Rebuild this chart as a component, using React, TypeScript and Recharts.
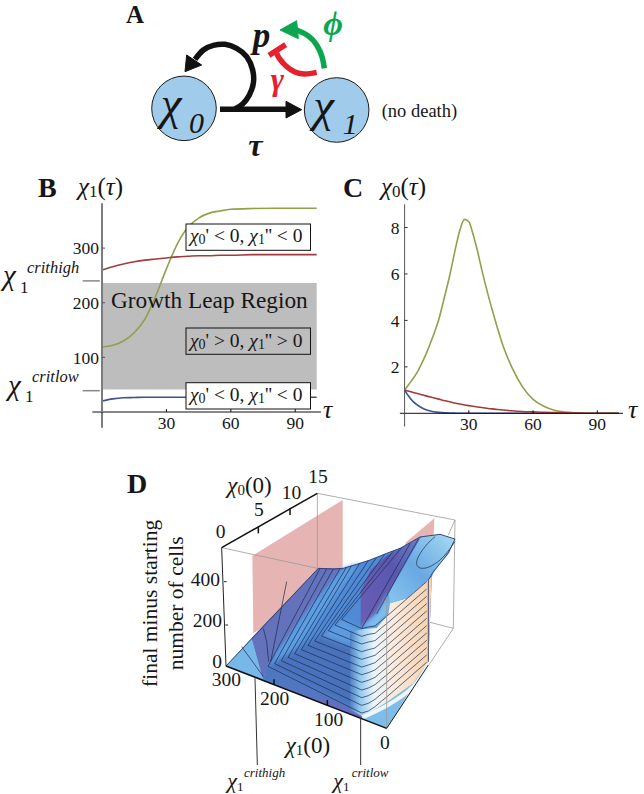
import React from "react";
import { LineChart, Line, XAxis, YAxis, ReferenceArea, ReferenceLine, ScatterChart, Scatter } from "recharts";

const serif = "'Liberation Serif', serif";
const GREEN = "#939f4c", RED = "#a23b3c", BLUE = "#3f5190";

// Panel B
const tauB = [0, 5, 10, 15, 20, 25, 30, 35, 40, 45, 50, 55, 60, 70, 80, 100];
const chi1Green = [119, 122, 130, 145, 170, 212, 262, 307, 338, 355, 364, 368, 371, 372.5, 373, 373];
const chi1Red = [260, 266, 271, 275, 278, 280, 282, 284, 285, 286, 286, 287, 287, 288, 288, 288];
const chi1Blue = [20, 24, 26, 26.5, 27, 27, 27, 27, 27, 27, 27, 27, 27, 27, 27, 27];
const ticksB = [30, 60, 90];
const ticksB1 = [100, 200, 300];
const leapLow = 41, leapHigh = 236, critLow = 39, critHigh = 240;

// Panel C
const tauC = [0, 2, 4, 6, 8, 10, 13, 16, 19, 21, 24, 26, 28, 30, 32, 34, 36, 39, 42, 46, 50, 55, 60, 65, 70, 75, 80, 90, 100];
const chi0Green = [1, 1.25, 1.5, 1.78, 2.15, 2.55, 3.25, 4.05, 5.15, 5.9, 7.2, 7.95, 8.35, 8.25, 7.7, 7, 6.2, 5.1, 4.1, 2.9, 2, 1.15, 0.6, 0.3, 0.13, 0.05, 0.02, 0, 0];
const chi0Red = [1, 0.95, 0.9, 0.85, 0.8, 0.75, 0.68, 0.61, 0.54, 0.5, 0.43, 0.4, 0.36, 0.33, 0.3, 0.27, 0.25, 0.21, 0.18, 0.14, 0.11, 0.08, 0.06, 0.04, 0.03, 0.02, 0.01, 0, 0];
const chi0Blue = [1, 0.72, 0.5, 0.35, 0.24, 0.15, 0.08, 0.04, 0.02, 0.012, 0.005, 0, 0, 0, 0, 0, 0, 0, 0, 0, 0, 0, 0, 0, 0, 0, 0, 0, 0];
const ticksC1 = [2, 4, 6, 8];

const rowsB = tauB.map((t, i) => ({ t, g: chi1Green[i], r: chi1Red[i], b: chi1Blue[i] }));
const rowsC = tauC.map((t, i) => ({ t, g: chi0Green[i], r: chi0Red[i], b: chi0Blue[i] }));

// Panel A: traced schematic outlines
const flowShaft = [[300, 328], [505, 328]];
const flowHead = [[498, 304], [545, 329], [498, 354], [498, 304]];
const loopArc = [[345, 327], [368, 312], [388, 285], [400, 250], [398, 210], [380, 170], [350, 145], [315, 133], [280, 136], [250, 150], [225, 178]];
const loopHead = [[195, 215], [200, 165], [245, 195], [195, 215]];
const redArc = [[590, 217], [555, 222], [525, 216], [498, 198], [478, 175], [470, 160]];
const redBar = [[447, 166], [497, 134]];
const greenArc = [[613, 205], [606, 170], [590, 135], [565, 108], [525, 88]];
const greenHead = [[480, 90], [530, 62], [535, 116], [480, 90]];
const nodes = [{ x: 192, y: 325 }, { x: 650, y: 330 }];

// Panel D: traced surface outlines
const planeHigh = [[397, 272], [668, 105], [668, 330], [400, 505], [397, 272]];
const planeLow = [[858, 232], [943, 160], [930, 475], [925, 590], [800, 700], [800, 400], [858, 232]];
const surfaceBase = [[318, 603], [595, 310], [640, 312], [670, 310], [710, 298], [750, 285], [800, 265], [840, 250], [900, 216], [960, 208], [1005, 222], [985, 265], [940, 320], [935, 340], [925, 590], [880, 655], [800, 712], [730, 755], [725, 762], [318, 603]];
const floorLeft = [[318, 603], [395, 518], [430, 642], [318, 603]];
const bandDark = [[395, 518], [595, 310], [670, 310], [580, 415], [475, 555], [428, 638], [395, 518]];
const bandLight = [[428, 638], [475, 555], [580, 415], [670, 310], [720, 295], [620, 430], [520, 560], [446, 606], [428, 638]];
const coreDark = [[444, 604], [625, 497], [725, 510], [725, 744], [444, 604]];
const coreLight = [[604, 513], [665, 463], [725, 491], [725, 555], [604, 513]];
const frontBand = [[430, 642], [725, 762], [725, 744], [444, 604], [430, 642]];
const wedge = [[722, 487], [722, 378], [752, 315], [800, 272], [845, 248], [905, 214], [860, 285], [805, 385], [770, 445], [722, 487]];
const wedgeSide = [[722, 490], [770, 445], [805, 385], [812, 420], [805, 448], [770, 489], [722, 490]];
const floorRight = [[725, 762], [730, 755], [880, 655], [925, 590], [800, 790], [725, 762]];
const floorEdge = [[727, 757], [800, 722], [880, 665], [925, 598]];
const wall = [[690, 735], [690, 500], [730, 492], [770, 489], [805, 448], [810, 415], [860, 400], [935, 335], [925, 590], [880, 655], [800, 712], [730, 755], [690, 735]];
const lobe = [[805, 385], [810, 415], [860, 400], [930, 340], [1005, 230], [1005, 222], [960, 208], [905, 214], [805, 385]];
const lobeRing = [[945, 215], [915, 245], [890, 290], [910, 310], [960, 285], [1005, 230]];
const topEdge = [[318, 603], [595, 310], [640, 312], [670, 310], [710, 298], [750, 285], [800, 265], [840, 250], [900, 216], [960, 208], [1005, 222], [985, 265], [940, 320], [925, 345], [925, 590]];
const spurs = [
  [[365, 545], [405, 600], [430, 635]],
  [[430, 490], [440, 530], [446, 590]],
  [[500, 350], [470, 500], [452, 590]],
  [[725, 490], [870, 236]],
  [[770, 447], [895, 222]],
];
const contours = [
  [[600, 311], [444, 604], [725, 744], [745, 738], [765, 725], [785, 708], [800, 696], [920, 592]],
  [[620, 312], [464, 596], [725, 721], [745, 715], [765, 703], [785, 686], [800, 674], [920, 570]],
  [[640, 312], [484, 587], [725, 698], [745, 692], [765, 681], [785, 664], [800, 652], [920, 548]],
  [[660, 311], [504, 577], [725, 675], [745, 669], [765, 659], [785, 642], [800, 630], [920, 526]],
  [[680, 306], [524, 566], [725, 652], [745, 646], [765, 637], [785, 620], [800, 608], [920, 504]],
  [[695, 302], [544, 554], [725, 629], [745, 623], [765, 615], [785, 598], [800, 586], [920, 482]],
  [[720, 294], [564, 541], [725, 606], [745, 600], [765, 593], [785, 576], [800, 564], [920, 460]],
  [[745, 287], [584, 528], [725, 583], [745, 577], [765, 571], [785, 554], [800, 542], [920, 438]],
  [[770, 277], [604, 513], [725, 560], [745, 554], [765, 549], [785, 532], [800, 520], [920, 416]],
  [[795, 267], [625, 497], [725, 537], [745, 531], [765, 527], [785, 510], [800, 498], [920, 394]],
  [[820, 258], [645, 480], [725, 514], [745, 508], [765, 505], [785, 488], [800, 476], [920, 372]],
  [[845, 248], [665, 463], [725, 491], [745, 486], [765, 483], [785, 466], [800, 454], [920, 350]],
];
const boxBack = [
  [[592, 85], [1005, 165]], [[305, 248], [592, 310]], [[592, 85], [592, 312]],
  [[1005, 165], [1000, 490]], [[1000, 490], [800, 790]], [[1000, 490], [930, 472]], [[1005, 165], [985, 210]],
];
const boxFront = [[800, 790], [800, 395]];
const boxBold = [[[305, 248], [592, 85]], [[318, 603], [800, 790]], [[415, 185], [415, 205]], [[510, 130], [510, 150]], [[462, 660], [462, 643]], [[622, 722], [622, 705]]];
const boxThin = [[[305, 248], [318, 603]], [[312, 350], [320, 350]], [[316, 480], [324, 480]], [[800, 790], [925, 600]]];
const leaders = [[[405, 640], [412, 900]], [[722, 760], [722, 900]]];

const Nothing = () => <g />;
const pts = (a: number[][]) => a.map(([x, y]) => ({ x, y }));

function path(key: string, a: number[][], line: any, joint: any = "linear") {
  return <Scatter key={key} data={pts(a)} dataKey="y" line={line} lineJointType={joint} shape={Nothing as any} isAnimationActive={false} />;
}
function note(key: string, x: number, y: number, content: React.ReactNode) {
  return (
    <Scatter key={key} data={[{ x, y }]} dataKey="y" isAnimationActive={false}
      shape={((p: any) => <g transform={`translate(${p.cx},${p.cy})`} fontFamily={serif} fill="#161616">{content}</g>) as any} />
  );
}
const I = ({ children }: any) => <tspan fontStyle="italic">{children}</tspan>;

function Canvas({ left, top, w, h, sx, sy, children }: any) {
  return (
    <div style={{ position: "absolute", left, top, width: w, height: h }}>
      <ScatterChart width={w} height={h} margin={{ top: 0, right: 0, bottom: 0, left: 0 }}>
        <XAxis type="number" dataKey="x" domain={[0, sx]} hide allowDataOverflow />
        <YAxis type="number" dataKey="y" domain={[0, sy]} reversed hide allowDataOverflow />
        {children}
      </ScatterChart>
    </div>
  );
}

const tickStyle = { fontFamily: serif, fontSize: 17.5, fill: "#161616" };

function PanelB() {
  return (
    <div style={{ position: "absolute", left: 60, top: 190 }}>
      <LineChart width={280} height={250} data={rowsB} margin={{ top: 13.3, right: 19, bottom: 0, left: 2 }}>
        <XAxis dataKey="t" type="number" domain={[0, 102]} ticks={ticksB} height={28} tick={tickStyle} tickSize={-3} tickMargin={8} axisLine={{ stroke: "#111", strokeWidth: 1 }} tickLine={{ stroke: "#111" }} interval={0} />
        <YAxis type="number" domain={[0, 382]} ticks={ticksB1} width={40} tick={tickStyle} tickSize={-3} tickMargin={6} axisLine={{ stroke: "#7c7c7c", strokeWidth: 2 }} tickLine={{ stroke: "#555" }} interval={0} />
        <ReferenceArea x1={0} x2={100} y1={leapLow} y2={leapHigh} fill="#bdbdbd" fillOpacity={1} stroke="none" />
        <ReferenceLine segment={[{ x: 0, y: -29 }, { x: 0, y: 0 }]} stroke="#7c7c7c" strokeWidth={2} ifOverflow="visible" />
        <ReferenceLine segment={[{ x: -4.5, y: 0 }, { x: 0, y: 0 }]} stroke="#111" strokeWidth={1} ifOverflow="visible" />
        <ReferenceLine segment={[{ x: -9, y: critHigh }, { x: -1, y: critHigh }]} stroke="#888" strokeWidth={1.5} ifOverflow="visible" />
        <ReferenceLine segment={[{ x: -9, y: critLow }, { x: -1, y: critLow }]} stroke="#888" strokeWidth={1.5} ifOverflow="visible" />
        <Line dataKey="b" stroke={BLUE} strokeWidth={1.6} dot={false} type="monotone" isAnimationActive={false} />
        <Line dataKey="g" stroke={GREEN} strokeWidth={1.6} dot={false} type="monotone" isAnimationActive={false} />
        <Line dataKey="r" stroke={RED} strokeWidth={1.6} dot={false} type="monotone" isAnimationActive={false} />
      </LineChart>
    </div>
  );
}

function PanelC() {
  return (
    <div style={{ position: "absolute", left: 360, top: 190 }}>
      <LineChart width={284} height={250} data={rowsC} margin={{ top: 14.3, right: 21, bottom: 0, left: 4.6 }}>
        <XAxis dataKey="t" type="number" domain={[0, 102]} ticks={ticksB} height={26.7} tick={tickStyle} tickSize={-3} tickMargin={7} axisLine={{ stroke: "#111", strokeWidth: 1 }} tickLine={{ stroke: "#111" }} interval={0} />
        <YAxis type="number" domain={[0, 9]} ticks={ticksC1} width={40} tick={tickStyle} tickSize={-3} tickMargin={8} axisLine={{ stroke: "#555", strokeWidth: 1 }} tickLine={{ stroke: "#333" }} interval={0} />
        <ReferenceLine segment={[{ x: 0, y: -0.57 }, { x: 0, y: 0 }]} stroke="#555" strokeWidth={1} ifOverflow="visible" />
        <ReferenceLine segment={[{ x: -2.2, y: 0 }, { x: 0, y: 0 }]} stroke="#111" strokeWidth={1} ifOverflow="visible" />
        <Line dataKey="b" stroke={BLUE} strokeWidth={1.6} dot={false} type="monotone" isAnimationActive={false} />
        <Line dataKey="g" stroke={GREEN} strokeWidth={1.6} dot={false} type="monotone" isAnimationActive={false} />
        <Line dataKey="r" stroke={RED} strokeWidth={1.6} dot={false} type="monotone" isAnimationActive={false} />
      </LineChart>
    </div>
  );
}

const conditionLabel = (op: string) => (
  <text fontSize={19.5}>
    <I>χ</I><tspan fontSize={14} dy={2}>0</tspan><tspan dy={-2}>' {op} 0, </tspan><I>χ</I><tspan fontSize={14} dy={2}>1</tspan><tspan dy={-2}>'' {op} 0</tspan>
  </text>
);

function box(key: string, x: number, y: number, fill: string) {
  return (
    <Scatter key={key} data={[{ x, y }]} dataKey="y" isAnimationActive={false}
      shape={((p: any) => <rect x={p.cx} y={p.cy} width={124.5} height={26.3} fill={fill} stroke="#111" strokeWidth={1} />) as any} />
  );
}

function AnnotationLayer() {
  return (
    <Canvas left={0} top={0} w={644} h={794} sx={644} sy={794}>
      {box("b1", 186, 224, "#ffffff")}
      {box("b2", 186, 328, "none")}
      {box("b3", 186, 382.7, "#ffffff")}
      {note("t-b1", 190, 242, conditionLabel("<"))}
      {note("t-b2", 190, 347, conditionLabel(">"))}
      {note("t-b3", 190, 400.5, conditionLabel("<"))}
      {note("leap", 111, 308, <text fontSize={23.3}>Growth Leap Region</text>)}
      {note("B", 38, 197, <text fontSize={28} fontWeight="bold">B</text>)}
      {note("C", 343, 197, <text fontSize={28} fontWeight="bold">C</text>)}
      {note("yB", 78, 195, <text fontSize={25}><I>χ</I><tspan fontSize={17} dy={2}>1</tspan><tspan dy={-2}>(</tspan><I>τ</I>)</text>)}
      {note("yC", 381, 195, <text fontSize={25}><I>χ</I><tspan fontSize={17} dy={2}>0</tspan><tspan dy={-2}>(</tspan><I>τ</I>)</text>)}
      {note("tB", 323, 418, <text fontSize={26}><I>τ</I></text>)}
      {note("tC", 628, 418, <text fontSize={26}><I>τ</I></text>)}
      {note("hiChi", 3, 285, <text fontSize={29}><I>χ</I></text>)}
      {note("hi1", 20, 292.7, <text fontSize={17}>1</text>)}
      {note("hiSup", 27, 273.3, <text fontSize={16.5}><I>crithigh</I></text>)}
      {note("loChi", 8, 395, <text fontSize={29}><I>χ</I></text>)}
      {note("lo1", 25, 402, <text fontSize={17}>1</text>)}
      {note("loSup", 32, 382, <text fontSize={16.5}><I>critlow</I></text>)}
    </Canvas>
  );
}

function PanelA() {
  const black = { stroke: "#111", strokeWidth: 5.5, fill: "none" };
  const red = { stroke: "#e6212e", strokeWidth: 5.5, fill: "none" };
  const green = { stroke: "#0ca651", strokeWidth: 5.5, fill: "none" };
  return (
    <Canvas left={120} top={0} w={340} h={165} sx={1020} sy={495}>
      <Scatter data={nodes} dataKey="y" isAnimationActive={false}
        shape={((p: any) => <circle cx={p.cx} cy={p.cy} r={32.3} fill="#a0cbea" stroke="#1a1a1a" strokeWidth={1} />) as any} />
      {path("shaft", flowShaft, black)}
      {path("fhead", flowHead, { stroke: "#111", strokeWidth: 1, fill: "#111" })}
      {path("loop", loopArc, black, "natural")}
      {path("lhead", loopHead, { stroke: "#111", strokeWidth: 1, fill: "#111" })}
      {path("redArc", redArc, red, "natural")}
      {path("redBar", redBar, red)}
      {path("greenArc", greenArc, green, "natural")}
      {path("ghead", greenHead, { stroke: "#0ca651", strokeWidth: 1, fill: "#0ca651" })}
      {note("A", 18, 69, <text fontSize={25} fontWeight="bold">A</text>)}
      {note("x0", 122, 358, <text fontSize={47}><I>χ</I></text>)}
      {note("x0s", 207, 398, <text fontSize={30}><I>0</I></text>)}
      {note("x1", 580, 362, <text fontSize={47}><I>χ</I></text>)}
      {note("x1s", 668, 402, <text fontSize={30}><I>1</I></text>)}
      {note("p", 398, 140, <text fontSize={35} fontWeight="bold"><I>p</I></text>)}
      {note("phi", 610, 105, <text fontSize={34} fontWeight="bold" fill="#0ca651"><I>ϕ</I></text>)}
      {note("gam", 452, 270, <text fontSize={32} fontWeight="bold" fill="#e6212e"><I>γ</I></text>)}
      {note("tau", 385, 468, <text fontSize={32} fontWeight="bold"><I>τ</I></text>)}
      {note("nd", 785, 350, <text fontSize={18.5}>(no death)</text>)}
    </Canvas>
  );
}

function PanelD() {
  const grey = { stroke: "#9a9a9a", strokeWidth: 0.8, fill: "none" };
  const dark = { stroke: "#1c2a4c", strokeWidth: 0.7, fill: "none" };
  const solid = (fill: string) => ({ fill, stroke: "none" });
  const soft = (fill: string) => ({ fill, stroke: "none", filter: "url(#soft)" });
  return (
    <Canvas left={120} top={465} w={360} h={329} sx={1080} sy={987}>
      <defs>
        <filter id="soft" x="-15%" y="-15%" width="130%" height="130%"><feGaussianBlur stdDeviation="2" /></filter>
        <linearGradient id="wallFill" gradientUnits="userSpaceOnUse" x1={230} y1={0} x2={310} y2={0}>
          <stop offset="0" stopColor="#4f7fc6" />
          <stop offset="0.12" stopColor="#8fc6ec" />
          <stop offset="0.3" stopColor="#eaf5fb" />
          <stop offset="0.55" stopColor="#fbeadb" />
          <stop offset="1" stopColor="#f6d2ae" />
        </linearGradient>
        <linearGradient id="lobeFill" x1="0" y1="1" x2="1" y2="0">
          <stop offset="0" stopColor="#86c6ee" />
          <stop offset="0.45" stopColor="#69a8e2" />
          <stop offset="1" stopColor="#a8dcf4" />
        </linearGradient>
        <linearGradient id="wedgeFill" x1="0" y1="1" x2="1" y2="0">
          <stop offset="0" stopColor="#6a5fb5" />
          <stop offset="0.6" stopColor="#5b57ae" />
          <stop offset="1" stopColor="#6a80cc" />
        </linearGradient>
        <linearGradient id="frontFill" x1="0.45" y1="0.4" x2="0.3" y2="0.8">
          <stop offset="0" stopColor="#4d78c0" />
          <stop offset="1" stopColor="#7565bd" />
        </linearGradient>
      </defs>
      {path("pHigh", planeHigh, solid("#e6b4b3"))}
      {path("pLow", planeLow, solid("#e6b4b3"))}
      {boxBack.map((s, i) => path("bb" + i, s, grey))}
      {path("floorR", floorRight, solid("#7dbdea"))}
      {path("surf", surfaceBase, solid("#4f8ad6"))}
      {path("floorL", floorLeft, solid("#78b8e9"))}
      {path("bandD", bandDark, solid("#6472bc"))}
      {path("bandL", bandLight, soft("#5b9fe3"))}
      {path("core", coreDark, soft("#4a72bc"))}
      {path("coreL", coreLight, soft("#5b9be0"))}
      {path("front", frontBand, solid("url(#frontFill)"))}
      {path("wedge", wedge, solid("url(#wedgeFill)"))}
      {path("wedgeS", wedgeSide, soft("#7fbdea"))}
      {path("wall", wall, solid("url(#wallFill)"))}
      {path("fedge", floorEdge, { stroke: "#eef6fb", strokeWidth: 4, fill: "none" }, "natural")}
      {path("lobe", lobe, solid("url(#lobeFill)"))}
      {contours.map((c, i) => path("c" + i, c, dark))}
      {spurs.map((c, i) => path("s" + i, c, dark))}
      {path("ring", lobeRing, dark, "natural")}
      {path("top", topEdge, { stroke: "#2b3a6c", strokeWidth: 0.9, fill: "none" })}
      {path("bf", boxFront, grey)}
      {boxThin.map((s, i) => path("bt" + i, s, { stroke: "#222", strokeWidth: 1, fill: "none" }))}
      {boxBold.map((s, i) => path("bo" + i, s, { stroke: "#111", strokeWidth: 1.5, fill: "none" }))}
      {leaders.map((s, i) => path("l" + i, s, { stroke: "#333", strokeWidth: 1, fill: "none" }))}
      {note("D", 21, 85, <text fontSize={28} fontWeight="bold">D</text>)}
      {note("a0", 322, 85, <text fontSize={23}><I>χ</I><tspan fontSize={15} dy={2}>0</tspan><tspan dy={-2}>(0)</tspan></text>)}
      {note("t15", 565, 55, <text fontSize={19.5}>15</text>)}
      {note("t10", 485, 102, <text fontSize={19.5}>10</text>)}
      {note("t5", 402, 154, <text fontSize={19.5}>5</text>)}
      {note("t0", 287, 219, <text fontSize={19.5}>0</text>)}
      {note("t400", 212, 362, <text fontSize={19.5}>400</text>)}
      {note("t200", 218, 486, <text fontSize={19.5}>200</text>)}
      {note("t00", 277, 609, <text fontSize={19.5}>0</text>)}
      {note("t300", 275, 664, <text fontSize={19.5}>300</text>)}
      {note("t20", 420, 721, <text fontSize={19.5}>200</text>)}
      {note("t100", 582, 784, <text fontSize={19.5}>100</text>)}
      {note("t0r", 780, 851, <text fontSize={19.5}>0</text>)}
      {note("ax1", 497, 865, <text fontSize={23}><I>χ</I><tspan fontSize={15} dy={2}>1</tspan><tspan dy={-2}>(0)</tspan></text>)}
      {note("fm", 111, 415, <text fontSize={21.5} textAnchor="middle" transform="rotate(-90)">final minus starting</text>)}
      {note("nc", 189, 415, <text fontSize={21.5} textAnchor="middle" transform="rotate(-90)">number of cells</text>)}
      {note("hi", 322, 970, <text fontSize={22}><I>χ</I><tspan fontSize={13} dy={3}>1</tspan></text>)}
      {note("his", 372, 935, <text fontSize={13}><I>crithigh</I></text>)}
      {note("lo", 640, 970, <text fontSize={22}><I>χ</I><tspan fontSize={13} dy={3}>1</tspan></text>)}
      {note("los", 695, 935, <text fontSize={13}><I>critlow</I></text>)}
    </Canvas>
  );
}

export default function App() {
  return (
    <div style={{ position: "absolute", left: 0, top: 0, width: 644, height: 794, background: "#fff", overflow: "hidden" }}>
      <PanelA />
      <PanelB />
      <PanelC />
      <AnnotationLayer />
      <PanelD />
    </div>
  );
}
